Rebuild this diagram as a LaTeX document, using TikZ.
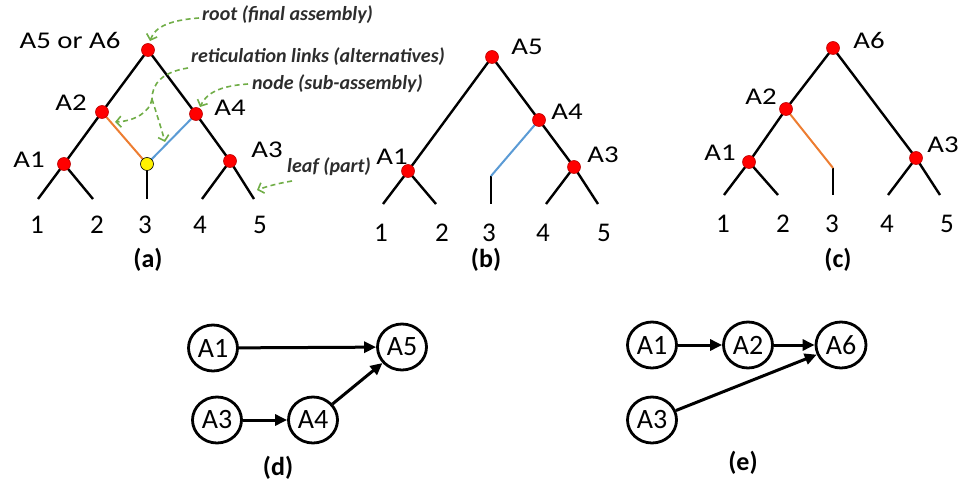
\documentclass[tikz,border=0pt]{standalone}
\usepackage{fontspec}
\setmainfont{Carlito}
\newfontfamily\lblfont[FakeStretch=1.2]{Carlito}
\usetikzlibrary{arrows.meta,shapes.geometric}
\definecolor{dotred}{RGB}{255,0,0}
\definecolor{dotrim}{RGB}{190,0,0}
\definecolor{altorange}{RGB}{237,125,49}
\definecolor{altblue}{RGB}{91,155,213}
\definecolor{calloutgreen}{RGB}{112,173,71}
\definecolor{notegray}{RGB}{45,45,45}
\begin{document}
\begin{tikzpicture}[x=1pt,y=-1pt,
  tree/.style={line width=2.4pt,black},
  altA/.style={line width=2pt,altorange},
  altB/.style={line width=2pt,altblue},
  dot/.style={circle,fill=dotred,draw=dotrim,line width=0.6pt,minimum size=13pt,inner sep=0pt},
  joint/.style={dot,fill=yellow,draw=black},
  lbl/.style={font=\lblfont\fontsize{24}{28}\selectfont,inner sep=0pt},
  num/.style={font=\fontsize{27}{30}\selectfont,inner sep=0pt},
  capt/.style={font=\bfseries\fontsize{26}{30}\selectfont,inner sep=0pt},
  note/.style={font=\bfseries\itshape\fontsize{20}{24}\selectfont,text=notegray,anchor=west,inner sep=0pt},
  callout/.style={draw=calloutgreen,dash pattern=on 5pt off 3.5pt,line width=1.6pt},
  callarrow/.style={callout,-{Straight Barb[length=5pt,width=11pt]}},
  asm/.style={ellipse,draw,line width=2.8pt,minimum width=49pt,minimum height=46pt,inner sep=0pt,font=\fontsize{28}{30}\selectfont},
  link/.style={line width=3pt,-{Triangle[length=12pt,width=11pt]}}
]
\useasboundingbox (0,0) rectangle (960,486);

% ---------- (a) network with reticulation ----------
\coordinate (a-r)  at (148,50);
\coordinate (a-a2) at (102,112);
\coordinate (a-a4) at (196,114);
\coordinate (a-a1) at (64,164);
\coordinate (a-a3) at (230,161);
\coordinate (a-j)  at (147,164);
\coordinate (a-l1) at (38,199);
\coordinate (a-l2) at (93,199);
\coordinate (a-l3) at (147,199);
\coordinate (a-l4) at (202,199);
\coordinate (a-l5) at (254,199);
\draw[tree] (a-l1) -- (a-a1) -- (a-a2) -- (a-r) -- (a-a4) -- (a-a3) -- (a-l5);
\draw[tree] (a-a1) -- (a-l2);
\draw[tree] (a-a3) -- (a-l4);
\draw[tree] (a-j) -- (a-l3);
\draw[altA] (a-a2) -- (a-j);
\draw[altB] (a-a4) -- (a-j);
\foreach \p in {a-r,a-a2,a-a4,a-a1,a-a3} \node[dot] at (\p) {};
\node[joint] at (a-j) {};

\node[lbl] (a-t-r)  at (70,40)  {A5 or A6};
\node[lbl] (a-t-a2) at (71,103) {A2};
\node[lbl] (a-t-a4) at (230,108) {A4};
\node[lbl] (a-t-a1) at (29,160) {A1};
\node[lbl] (a-t-a3) at (267,150) {A3};
\foreach \i/\x in {1/37,2/97,3/145,4/200,5/260}
  \node[num] (a-n\i) at (\x,225) {\i};
\node[capt] (a-cap) at (148,260) {(a)};

% annotations
\node[note] (n-root) at (202,15)  {root (final assembly)};
\node[note] (n-ret)  at (191,57)  {reticulation links (alternatives)};
\node[note] (n-node) at (252,84)  {node (sub-assembly)};
\node[note] (n-leaf) at (287,167) {leaf (part)};
\coordinate (c-root) at (150,41);
\coordinate (c-node) at (200,107);
\coordinate (c-leaf) at (257,190);
\coordinate (c-br)   at (152,99);
\coordinate (c-to2)  at (115,122);
\coordinate (c-toj)  at (165,142);
\draw[callarrow] ([xshift=-3pt,yshift=-3pt]n-root.west) .. controls (172,20) and (155,26) .. (c-root);
\draw[callarrow] ([xshift=-4pt]n-node.west) .. controls (218,86) and (206,94) .. (c-node);
\draw[callarrow] ([xshift=5pt,yshift=-14pt]n-leaf.west) .. controls (280,183) and (268,186) .. (c-leaf);
\draw[callout] ([xshift=-3pt,yshift=-11pt]n-ret.west) .. controls (162,72) and (152,84) .. (c-br);
\draw[callarrow] (c-br) .. controls (150,112) and (135,121) .. (c-to2);
\draw[callarrow] (c-br) .. controls (156,112) and (160,124) .. (c-toj);

% ---------- (b) tree rooted at A5 ----------
\coordinate (b-r)  at (492,57);
\coordinate (b-a4) at (539,120);
\coordinate (b-a1) at (408,171);
\coordinate (b-a3) at (574,167);
\coordinate (b-j)  at (491,176);
\coordinate (b-l1) at (383,204);
\coordinate (b-l2) at (436,204);
\coordinate (b-l3) at (491,204);
\coordinate (b-l4) at (546,204);
\coordinate (b-l5) at (598,204);
\draw[tree] (b-l1) -- (b-a1) -- (b-r) -- (b-a4) -- (b-a3) -- (b-l5);
\draw[tree] (b-a1) -- (b-l2);
\draw[tree] (b-a3) -- (b-l4);
\draw[tree] (b-j) -- (b-l3);
\draw[altB] (b-a4) -- (b-j);
\foreach \p in {b-r,b-a4,b-a1,b-a3} \node[dot] at (\p) {};
\node[lbl] (b-t-r)  at (527,47)  {A5};
\node[lbl] (b-t-a4) at (567,112) {A4};
\node[lbl] (b-t-a1) at (392,157) {A1};
\node[lbl] (b-t-a3) at (603,155) {A3};
\foreach \i/\x in {1/381,2/442,3/489,4/543,5/604}
  \node[num] (b-n\i) at (\x,233) {\i};
\node[capt] (b-cap) at (486,260) {(b)};

% ---------- (c) tree rooted at A6 ----------
\coordinate (c-r)  at (833,48);
\coordinate (c-a2) at (786,109);
\coordinate (c-a1) at (749,162);
\coordinate (c-a3) at (916,158);
\coordinate (c-j)  at (833,168);
\coordinate (c-l1) at (724,195);
\coordinate (c-l2) at (778,195);
\coordinate (c-l3) at (833,195);
\coordinate (c-l4) at (888,195);
\coordinate (c-l5) at (940,195);
\draw[tree] (c-l1) -- (c-a1) -- (c-a2) -- (c-r) -- (c-a3) -- (c-l5);
\draw[tree] (c-a1) -- (c-l2);
\draw[tree] (c-a3) -- (c-l4);
\draw[tree] (c-j) -- (c-l3);
\draw[altA] (c-a2) -- (c-j);
\foreach \p in {c-r,c-a2,c-a1,c-a3} \node[dot] at (\p) {};
\node[lbl] (c-t-r)  at (869,40)  {A6};
\node[lbl] (c-t-a2) at (761,97)  {A2};
\node[lbl] (c-t-a1) at (720,153) {A1};
\node[lbl] (c-t-a3) at (943,145) {A3};
\foreach \i/\x in {1/723,2/783,3/832,4/887,5/947}
  \node[num] (c-n\i) at (\x,224) {\i};
\node[capt] (c-cap) at (838,260) {(c)};

% ---------- (d) assembly sequence for A5 ----------
\node[asm] (d-a1) at (213,348) {A1};
\node[asm] (d-a5) at (402,347) {A5};
\node[asm] (d-a3) at (217,420) {A3};
\node[asm] (d-a4) at (313,420) {A4};
\draw[link] (d-a1) -- (d-a5);
\draw[link] (d-a3) -- (d-a4);
\draw[link] (d-a4) -- (d-a5);
\node[capt] (d-cap) at (278,468) {(d)};

% ---------- (e) assembly sequence for A6 ----------
\node[asm] (e-a1) at (652,345) {A1};
\node[asm] (e-a2) at (748,345) {A2};
\node[asm,minimum width=50pt] (e-a6) at (841,345) {A6};
\node[asm] (e-a3) at (652,420) {A3};
\draw[link] (e-a1) -- (e-a2);
\draw[link] (e-a2) -- (e-a6);
\draw[link] (e-a3) -- (e-a6);
\node[capt] (e-cap) at (743,463) {(e)};
\end{tikzpicture}
\end{document}
